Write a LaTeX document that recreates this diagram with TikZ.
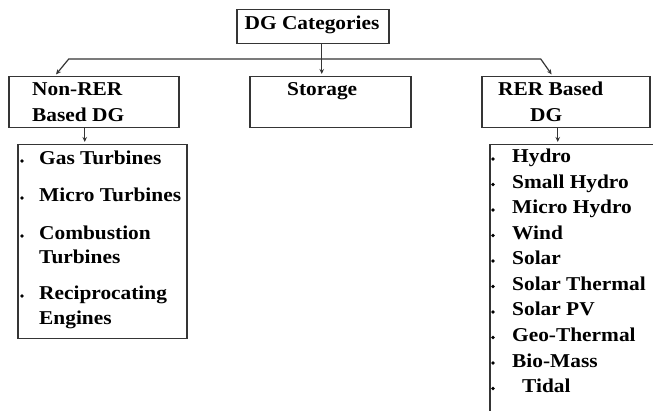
\documentclass[tikz,border=0pt]{standalone}
\usepackage{fontspec}
\setmainfont{Liberation Serif}[FakeStretch=1.09]
\usetikzlibrary{arrows.meta,calc}
\definecolor{linec}{HTML}{353535}
\begin{document}
\begin{tikzpicture}[x=1pt,y=-1pt,
  box/.style={draw=linec, line width=1.5pt, rectangle, inner sep=0pt, anchor=north west},
  txt/.style={inner sep=0pt, anchor=base west, font=\fontsize{19.6}{23}\selectfont\bfseries, text=black},
  arr/.style={draw=linec, line width=1.2pt, -{Stealth[length=5pt,width=4.5pt]}, shorten >=2pt},
  arrboth/.style={draw=linec, line width=1.2pt, {Stealth[length=5pt,width=4.5pt]}-{Stealth[length=5pt,width=4.5pt]}, shorten >=2pt, shorten <=2pt},
  bul/.style={fill=black}
]
\useasboundingbox (0,0) rectangle (653,411);
\clip (0,0) rectangle (653,411);
\fill[white] (0,0) rectangle (653,411);

% boxes
\node[box, minimum width=152, minimum height=34] (dg) at (236,9) {};
\node[box, minimum width=170, minimum height=51] (nonrer) at (8,76) {};
\node[box, minimum width=161, minimum height=51] (storage) at (249,76) {};
\node[box, minimum width=168, minimum height=51] (rer) at (481,76) {};
\node[box, minimum width=169, minimum height=194] (nlist) at (17,144) {};
\node[box, minimum width=230, minimum height=320] (rlist) at (489,144) {};

% box texts
\node[txt, anchor=base] (tdg) at (312,30) {DG Categories};
\node[txt] (tn1) at (32,96) {Non-RER};
\node[txt] (tn2) at (32,122) {Based DG};
\node[txt] (ts) at (287,96) {Storage};
\node[txt] (tr1) at (498,96) {RER Based};
\node[txt] (tr2) at (530,122) {DG};

% connectors
\coordinate (c1) at ([xshift=9pt]dg.south);
\draw[arr] (c1) -- (c1 |- storage.north);
\coordinate (l1) at ([xshift=-39pt]nonrer.north);
\coordinate (r1) at ([xshift=-13pt]rer.north);
\draw[arrboth] (l1) -- ++(14,-17) -- ($(r1)+(-12,-17)$) -- (r1);
\coordinate (c2) at ([xshift=-9pt]nonrer.south);
\draw[arr] (c2) -- (c2 |- nlist.north);
\coordinate (c3) at ([xshift=-8pt]rer.south);
\draw[arr] (c3) -- (c3 |- rlist.north);

% left list
\node[txt] (g1) at (39,165) {Gas Turbines};
\node[txt] (g2) at (39,202) {Micro Turbines};
\node[txt] (g3) at (39,240) {Combustion};
\node[txt] (g3b) at (39,264) {Turbines};
\node[txt] (g4) at (39,300) {Reciprocating};
\node[txt] (g4b) at (39,325) {Engines};
\foreach \y in {165,202,240,300} \fill[bul] (22,\y-4) circle (1.9);

% right list
\foreach \t [count=\i from 0] in {Hydro,Small Hydro,Micro Hydro,Wind,Solar,Solar Thermal,Solar PV,Geo-Thermal,Bio-Mass}
  \node[txt] (h\i) at (512,163+25.5*\i) {\t};
\node[txt] (h9) at (522,392.5) {Tidal};
\foreach \i in {0,...,9} \fill[bul] (493,163+25.5*\i-4) circle (1.9);
\end{tikzpicture}
\end{document}
